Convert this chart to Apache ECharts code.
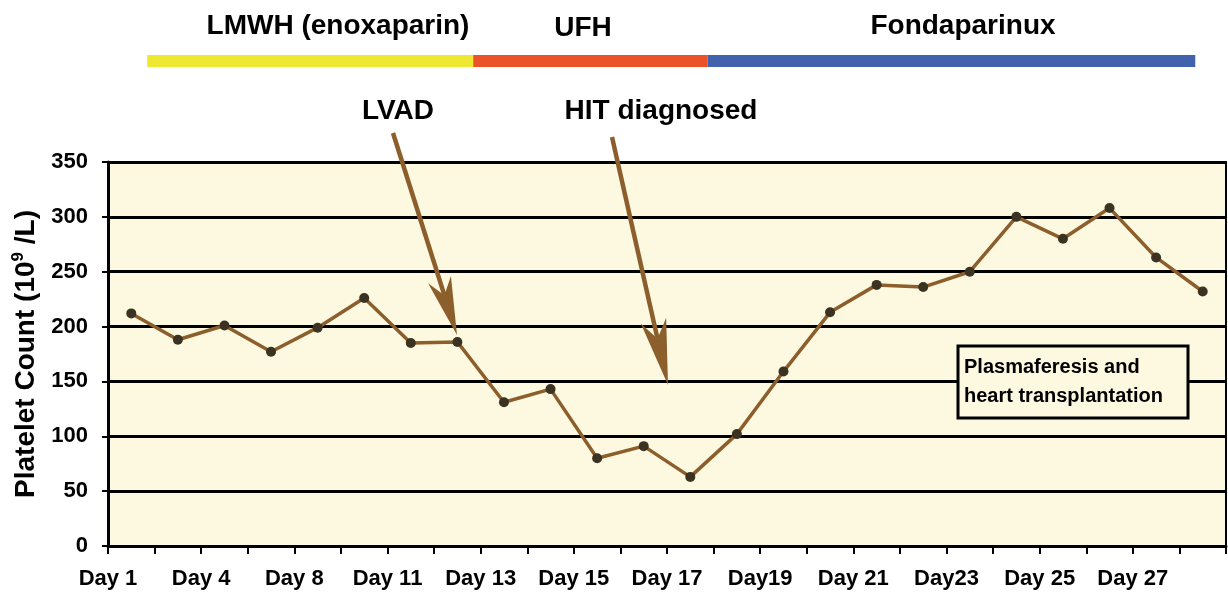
<!DOCTYPE html>
<html>
<head>
<meta charset="utf-8">
<script src="https://cdn.jsdelivr.net/npm/echarts@6/dist/echarts.min.js"></script>
<style>
html,body{margin:0;padding:0;background:#fff;}
#chart{width:1228px;height:609px;}
</style>
</head>
<body>
<div id="chart"></div>
<script>
// ---- data ----
const pointIds = ['1','2','3','4','5','6','7','8','9','10','11','12','13','14','15','16','17','18','19','20','21','22','23','24'];
const platelets = [212, 188, 201, 177, 199, 226, 185, 186, 131, 143, 80, 91, 63, 102, 159, 213, 238, 236, 250, 300, 280, 308, 263, 232];
const tickLabels = ['Day 1','Day 4','Day 8','Day 11','Day 13','Day 15','Day 17','Day19','Day 21','Day23','Day 25','Day 27'];
const yTicks = [0, 50, 100, 150, 200, 250, 300, 350];
const phaseNames = ['LMWH (enoxaparin)', 'UFH', 'Fondaparinux'];
const phaseStart = [0.84, 7.84, 12.87];
const phaseEnd = [7.84, 12.87, 23.34];
const phaseColors = ['#EFE832', '#EC5228', '#4262AD'];

// ---- build ----
const FONT = "'Liberation Sans', Arial, Helvetica, sans-serif";
const BG = '#FDF9E1';
const BROWN = '#8B5E2B';
const labelAxisData = [];
for (let k = 0; k <= 24; k++) labelAxisData.push(k % 2 === 0 && tickLabels[k / 2] ? tickLabels[k / 2] : '');

function arrow(x1, y1, x2, y2, headLen, headW) {
  const dx = x2 - x1, dy = y2 - y1, L = Math.hypot(dx, dy);
  const ux = dx / L, uy = dy / L, nx = -uy, ny = ux;
  const bx = x2 - ux * headLen, by = y2 - uy * headLen;
  const mx = x2 - ux * headLen * 0.72, my = y2 - uy * headLen * 0.72;
  return [
    {type: 'line', z: 100, shape: {x1: x1, y1: y1, x2: mx, y2: my}, style: {stroke: BROWN, lineWidth: 4.5}},
    {type: 'polygon', z: 100, shape: {points: [[x2, y2], [bx + nx * headW / 2, by + ny * headW / 2], [mx, my], [bx - nx * headW / 2, by - ny * headW / 2]]}, style: {fill: BROWN}}
  ];
}

const chart = echarts.init(document.getElementById('chart'), null, {renderer: 'canvas'});
const titleStyle = {fontFamily: FONT, fontWeight: 'bold', fontSize: 28, fill: '#000'};

chart.setOption({
  animation: false,
  backgroundColor: '#fff',
  grid: [
    {left: 108, right: 2, top: 162, bottom: 63, containLabel: false, outerBoundsMode: 'none', show: true, backgroundColor: BG, borderColor: '#000', borderWidth: 2},
    {left: 108, right: 2, top: 55, height: 12, containLabel: false, outerBoundsMode: 'none'}
  ],
  xAxis: [
    {
      type: 'category', gridIndex: 0, data: labelAxisData, boundaryGap: false,
      axisLine: {lineStyle: {color: '#000', width: 3}},
      axisTick: {show: true, interval: 0, length: 8, lineStyle: {color: '#000', width: 2}},
      axisLabel: {interval: 0, margin: 22, color: '#000', fontFamily: FONT, fontWeight: 'bold', fontSize: 22},
      splitLine: {show: false}
    },
    {type: 'category', gridIndex: 0, data: pointIds, boundaryGap: true, show: false},
    {type: 'value', gridIndex: 1, min: 0, max: 24, show: false}
  ],
  yAxis: [
    {
      type: 'value', gridIndex: 0, min: 0, max: 350, interval: 50,
      name: '{b|Platelet Count (10}{s|9}{b| /L)}',
      nameLocation: 'middle', nameGap: 66, nameRotate: 90,
      nameTextStyle: {rich: {
        b: {fontFamily: FONT, fontWeight: 'bold', fontSize: 28, color: '#000', lineHeight: 32},
        s: {fontFamily: FONT, fontWeight: 'bold', fontSize: 17, color: '#000', lineHeight: 32, verticalAlign: 'top', padding: [0, 0, 11, 0]}
      }},
      axisLine: {show: true, lineStyle: {color: '#000', width: 3}},
      axisTick: {show: true, length: 6, lineStyle: {color: '#000', width: 2}},
      axisLabel: {margin: 20, color: '#000', fontFamily: FONT, fontWeight: 'bold', fontSize: 22,
        formatter: v => yTicks.indexOf(v) >= 0 ? String(v) : ''},
      splitLine: {show: true, lineStyle: {color: '#000', width: 3}}
    },
    {type: 'category', gridIndex: 1, data: ['phase'], show: false}
  ],
  series: [
    {
      type: 'line', xAxisIndex: 1, yAxisIndex: 0, data: platelets,
      symbol: 'circle', symbolSize: 10,
      lineStyle: {color: BROWN, width: 3.5},
      itemStyle: {color: '#3B3222'},
      z: 5
    },
    {
      type: 'custom', xAxisIndex: 2, yAxisIndex: 1,
      data: phaseNames.map((n, i) => [phaseStart[i], phaseEnd[i], 0, i]),
      encode: {x: [0, 1], y: 2},
      renderItem: function (params, api) {
        const s = api.coord([api.value(0), api.value(2)]);
        const e = api.coord([api.value(1), api.value(2)]);
        const h = api.size([0, 1])[1];
        return {type: 'rect', shape: {x: s[0], y: s[1] - h / 2, width: e[0] - s[0], height: h},
          style: {fill: phaseColors[api.value(3)]}};
      }
    }
  ],
  graphic: [
    {type: 'text', z: 100, x: 338, y: 26, style: Object.assign({text: phaseNames[0], align: 'center', verticalAlign: 'middle'}, titleStyle)},
    {type: 'text', z: 100, x: 583, y: 28, style: Object.assign({text: phaseNames[1], align: 'center', verticalAlign: 'middle'}, titleStyle)},
    {type: 'text', z: 100, x: 963, y: 26, style: Object.assign({text: phaseNames[2], align: 'center', verticalAlign: 'middle'}, titleStyle)},
    {type: 'text', z: 100, x: 398, y: 111, style: Object.assign({text: 'LVAD', align: 'center', verticalAlign: 'middle'}, titleStyle)},
    {type: 'text', z: 100, x: 661, y: 111, style: Object.assign({text: 'HIT diagnosed', align: 'center', verticalAlign: 'middle'}, titleStyle)},
    ...arrow(393, 133, 457, 335, 58, 24),
    ...arrow(612, 137, 668, 385, 66, 26),
    {type: 'rect', z: 100, shape: {x: 958, y: 346, width: 230, height: 72}, style: {fill: BG, stroke: '#000', lineWidth: 3}},
    {type: 'text', z: 101, x: 964, y: 353, style: {text: 'Plasmaferesis and\nheart transplantation', fontFamily: FONT, fontWeight: 'bold', fontSize: 20, lineHeight: 29, fill: '#000', align: 'left', verticalAlign: 'top'}}
  ]
});
</script>
</body>
</html>
